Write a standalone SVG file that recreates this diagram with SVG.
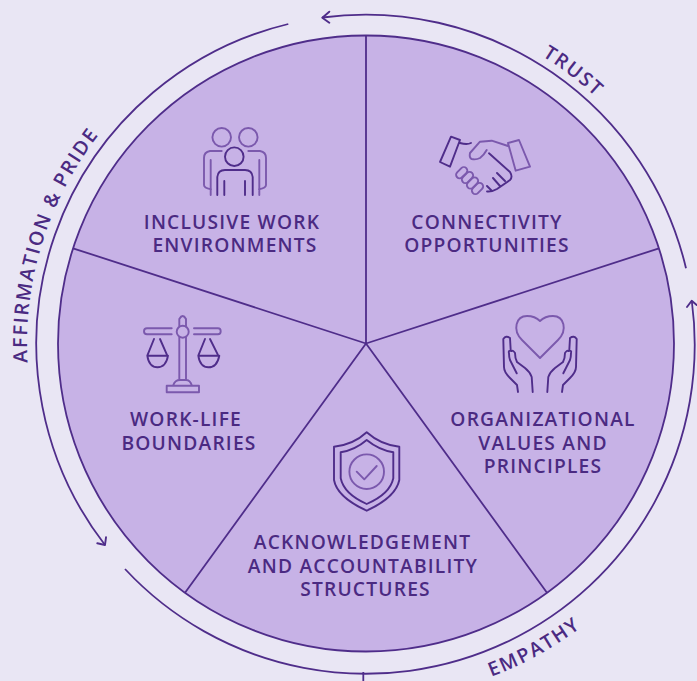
<svg xmlns="http://www.w3.org/2000/svg" width="697" height="681" viewBox="0 0 697 681">
<style>
.lab{font-family:"Open Sans","Noto Sans",sans-serif;font-weight:600;font-size:19.2px;fill:#4b2a82;letter-spacing:1.2px;text-anchor:middle}
.arc{font-family:"Open Sans","Noto Sans",sans-serif;font-weight:600;font-size:19.5px;fill:#4b2a82;letter-spacing:1.8px}
.c{fill:none;stroke:#4f2d8a;stroke-width:1.8}
.d{fill:none;stroke:#4f2d8a;stroke-width:1.9;stroke-linecap:round;stroke-linejoin:round}
.l{fill:none;stroke:#7b59ad;stroke-width:1.9;stroke-linecap:round;stroke-linejoin:round}
</style>
<defs>
<path id="ta" d="M32.200 402.400A339 339 0 0 1 366 4.500"/>
<path id="tb" d="M366 6.500A337 337 0 0 1 703 343.500"/>
<path id="tc" d="M366 699.500A356 356 0 0 0 722 343.500"/>
<path id="hand" d="M518 392L517 385L510 378Q504 372 504 367L503.300 339Q506 335 510 338L510.700 350M532.700 392L531.700 377Q530 372 525 368L517 362Q515 358 515 353Q513 350 511.700 351Q508 350 509 353.300Q509 357 510 360L516.700 373.300"/>
</defs>
<rect width="697" height="681" fill="#e9e6f4"/>
<g id="connectors">
<circle cx="366" cy="343.500" r="308" fill="#c7b2e6" stroke="#4f2d8a" stroke-width="1.800"/>
<path class="c" d="M366 36V343.500M659 248.300L366 343.500M547 592.700L366 343.500M185 592.700L366 343.500M73 248.300L366 343.500"/>
<path class="c" d="M288.300 24A329 329 0 0 0 105 545"/>
<path class="c" d="M322.300 17.500A329 329 0 0 1 686 268.300"/>
<path class="c" d="M691.800 301A329 329 0 0 1 125 569"/>
<path class="c" d="M363.300 672V681"/>
<path class="d" d="M329.300 11.700L322.300 17.700L329.300 22.700M97.300 543.300L105 545L106 537.300M687 307L691.700 300.700L696.700 305"/>
</g>
<g id="trust"><text class="arc"><textPath href="#tb" startOffset="185">TRUST</textPath></text></g>
<g id="affirmation"><text class="arc"><textPath href="#ta" startOffset="40">AFFIRMATION &amp; PRIDE</textPath></text></g>
<g id="empathy"><text class="arc"><textPath href="#tc" startOffset="128">EMPATHY</textPath></text></g>
<g id="inclusive">
<circle class="l" cx="221.700" cy="137.300" r="9.300"/><circle class="l" cx="248.300" cy="137.300" r="9.300"/>
<path class="l" d="M221.700 151H210Q204 152 204 158V185Q204 188 211 189.300M248.300 151H260Q266 152 266 158V185Q266 188 259 189.300M210.700 160V195M259.300 160V195"/>
<circle class="d" cx="234.300" cy="156.700" r="9.300"/>
<path class="d" d="M217.300 195V177Q218 170 225 170H245Q252 170 252.700 177V195M224.300 181V195M245 181V195"/>
<text class="lab" x="232" y="229">INCLUSIVE WORK</text><text class="lab" x="235" y="252">ENVIRONMENTS</text>
</g>
<g id="connectivity">
<path class="d" d="M460 140L451 136.700L440 162L450 166.700L460 140M460 143Q467 145 471 143"/>
<path class="l" d="M508 146L491.700 140.700L480 141.700L470 153Q469 158 471.700 159Q476 160 480 158Q484 155 486.700 150M508 143L519 140L530 166.700L515.700 170.700L508 143"/>
<path class="d" d="M489 153.300L510 172Q513 177 510 180L497 189Q492 192 487 191.500M493 178L500 186M497 173L505 181M487 186L492 191"/>
<rect class="l" x="-6.500" y="-3.500" width="13" height="7" rx="3.500" transform="translate(461.700 172.700) rotate(-45)"/>
<rect class="l" x="-6.500" y="-3.500" width="13" height="7" rx="3.500" transform="translate(467.500 177.500) rotate(-45)"/>
<rect class="l" x="-6.500" y="-3.500" width="13" height="7" rx="3.500" transform="translate(472.500 183) rotate(-45)"/>
<rect class="l" x="-6.500" y="-3.500" width="13" height="7" rx="3.500" transform="translate(477.500 188.500) rotate(-45)"/>
<text class="lab" x="487" y="229">CONNECTIVITY</text><text class="lab" x="487" y="252">OPPORTUNITIES</text>
</g>
<g id="values">
<path class="l" d="M540 358L522 340C512 330 516 316 527 316C533 316 537 318 540 321C543 318 547 316 553 316C564 316 568 330 558 340Z"/>
<use href="#hand" class="d"/>
<use href="#hand" class="d" transform="matrix(-1 0 0 1 1080 0)"/>
<text class="lab" x="543" y="426">ORGANIZATIONAL</text><text class="lab" x="543" y="450">VALUES AND</text><text class="lab" x="543" y="473">PRINCIPLES</text>
</g>
<g id="boundaries">
<path class="l" d="M171.700 328.300H147Q144 328.300 144 331.300Q144 334.300 147 334.300H171.700M194 328.300H218Q220.700 328.300 220.700 331.300Q220.700 334.300 218 334.300H194"/>
<circle class="l" cx="182.700" cy="331.700" r="6"/>
<path class="l" d="M179.300 326V319Q182.700 313 186 319V326M179.300 337V380M186 337V380M173.300 385Q175 380 180 380H186Q190 380 191.700 385M166.700 385.700H199V392.300H166.700Z"/>
<path class="d" d="M154 339L147.300 355.700M160 339L167.300 355.700M147.300 355.700H168Q166 367.300 157.500 367.300Q149 367.300 147.300 355.700M205 339L198.300 355.700M210 339L218.300 355.700M198.300 355.700H219.300Q217 367.300 208.500 367.300Q200 367.300 198.300 355.700"/>
<text class="lab" x="186" y="426">WORK-LIFE</text><text class="lab" x="189" y="450">BOUNDARIES</text>
</g>
<g id="acknowledgement">
<path class="d" d="M366.700 432.300Q353 445 334 446.700V480Q337 497 366.700 510.700Q396 497 399.300 480V446.700Q381 445 366.700 432.300ZM366.700 440Q355 450 340.700 452.300V478.300Q344 494 366.700 504Q390 494 393.300 478.300V452.300Q379 450 366.700 440Z"/>
<circle class="l" cx="366.700" cy="471.700" r="17.300"/>
<path class="l" d="M356.700 471.700L364.300 479.300L376.700 466"/>
<text class="lab" x="362.500" y="549">ACKNOWLEDGEMENT</text><text class="lab" x="363" y="573">AND ACCOUNTABILITY</text><text class="lab" x="365.500" y="596">STRUCTURES</text>
</g>
</svg>
